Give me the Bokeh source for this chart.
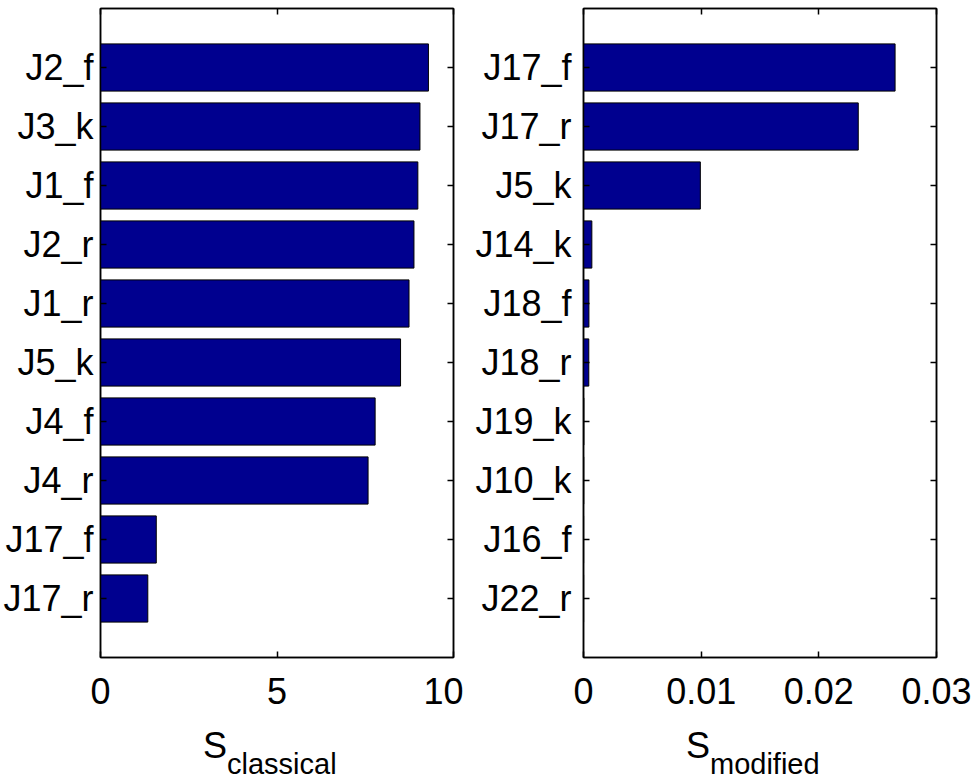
from bokeh.plotting import figure
from bokeh.layouts import row, column
from bokeh.models import Range1d, FixedTicker, LinearAxis, CustomJSTickFormatter
from bokeh.core.properties import value
from bokeh.embed import file_html
from bokeh.resources import INLINE

# ---- data (top to bottom as shown) ----
cats_classical = ["J2_f", "J3_k", "J1_f", "J2_r", "J1_r", "J5_k", "J4_f", "J4_r", "J17_f", "J17_r"]
vals_classical = [9.29, 9.05, 8.99, 8.88, 8.74, 8.50, 7.78, 7.58, 1.58, 1.34]

cats_modified = ["J17_f", "J17_r", "J5_k", "J14_k", "J18_f", "J18_r", "J19_k", "J10_k", "J16_f", "J22_r"]
vals_modified = [0.02648, 0.02335, 0.00993, 0.00071, 0.00046, 0.00045, 0.00003, 0.00002, 0.00001, 0.00001]

xticks_classical = [0, 5, 10]
xticks_modified = [0, 0.01, 0.02, 0.03]

label_main = "S"
label_sub_classical = "classical"
label_sub_modified = "modified"

BAR = "#00008F"
FONT = "Liberation Sans"
TICK_FS = "36px"
FRAME_W = 353
FRAME_H = 649
TOP = 8
MAIN_H = 717
LABEL_H = 61


def style_axis(ax, show_labels=True):
    ax.axis_line_color = "black"
    ax.axis_line_width = 1.5
    ax.major_tick_line_color = "black"
    ax.major_tick_line_width = 1.5
    ax.major_tick_in = 6
    ax.major_tick_out = 0
    ax.minor_tick_line_color = None
    if show_labels:
        ax.major_label_text_font = FONT
        ax.major_label_text_font_size = TICK_FS
        ax.major_label_text_color = "black"
    else:
        ax.major_label_standoff = 0
        ax.major_label_text_font_size = "0px"


def make_panel(cats, vals, xmax, xticks, border_left, border_right, standoff):
    width = border_left + FRAME_W + border_right
    p = figure(width=width, height=MAIN_H, output_backend="svg", toolbar_location=None,
               x_range=Range1d(0, xmax), y_range=Range1d(len(cats) + 1, 0),
               min_border_left=border_left, min_border_right=border_right,
               min_border_top=TOP, min_border_bottom=MAIN_H - TOP - FRAME_H,
               background_fill_color="white", border_fill_color="white")
    ypos = list(range(1, len(cats) + 1))
    p.hbar(y=ypos, right=vals, left=0, height=0.8,
           fill_color=BAR, line_color="black", line_width=1)
    p.grid.visible = False
    p.outline_line_color = "black"
    p.outline_line_width = 1.5

    style_axis(p.xaxis[0])
    style_axis(p.yaxis[0])
    p.xaxis[0].ticker = FixedTicker(ticks=xticks)
    p.xaxis[0].major_label_standoff = 20
    p.yaxis[0].ticker = FixedTicker(ticks=ypos)
    p.yaxis[0].major_label_overrides = {i: c for i, c in zip(ypos, cats)}
    p.yaxis[0].major_label_standoff = standoff

    # mirrored tick marks (box on)
    empty = CustomJSTickFormatter(code="return ''")
    top = LinearAxis(ticker=FixedTicker(ticks=xticks), formatter=empty)
    right = LinearAxis(ticker=FixedTicker(ticks=ypos), formatter=empty)
    style_axis(top, False)
    style_axis(right, False)
    p.add_layout(top, "above")
    p.add_layout(right, "right")
    return p


def make_label(panel, border_left, border_right, sub):
    width = border_left + FRAME_W + border_right
    q = figure(width=width, height=LABEL_H, output_backend="svg", toolbar_location=None,
               x_range=panel.x_range, y_range=Range1d(0, LABEL_H),
               x_axis_location=None, y_axis_location=None,
               min_border_left=border_left, min_border_right=border_right,
               min_border_top=0, min_border_bottom=0,
               background_fill_color="white", border_fill_color="white")
    q.grid.visible = False
    q.outline_line_color = None
    mid = (panel.x_range.start + panel.x_range.end) / 2.0
    q.text(x=[mid], y=[33], text=[label_main], x_offset=-50,
           text_align="right", text_baseline="alphabetic",
           text_font=value(FONT), text_font_size="36px", text_color="black")
    q.text(x=[mid], y=[15], text=[sub], x_offset=-50,
           text_align="left", text_baseline="alphabetic",
           text_font=value(FONT), text_font_size="29px", text_color="black")
    return q


p1 = make_panel(cats_classical, vals_classical, 10, xticks_classical, 100, 10, 7)
p2 = make_panel(cats_modified, vals_modified, 0.03, xticks_modified, 120, 35, 12)
l1 = make_label(p1, 100, 10, label_sub_classical)
l2 = make_label(p2, 120, 35, label_sub_modified)

layout = column(row(p1, p2), row(l1, l2), spacing=0)
open("out.html", "w").write(file_html(layout, INLINE))
